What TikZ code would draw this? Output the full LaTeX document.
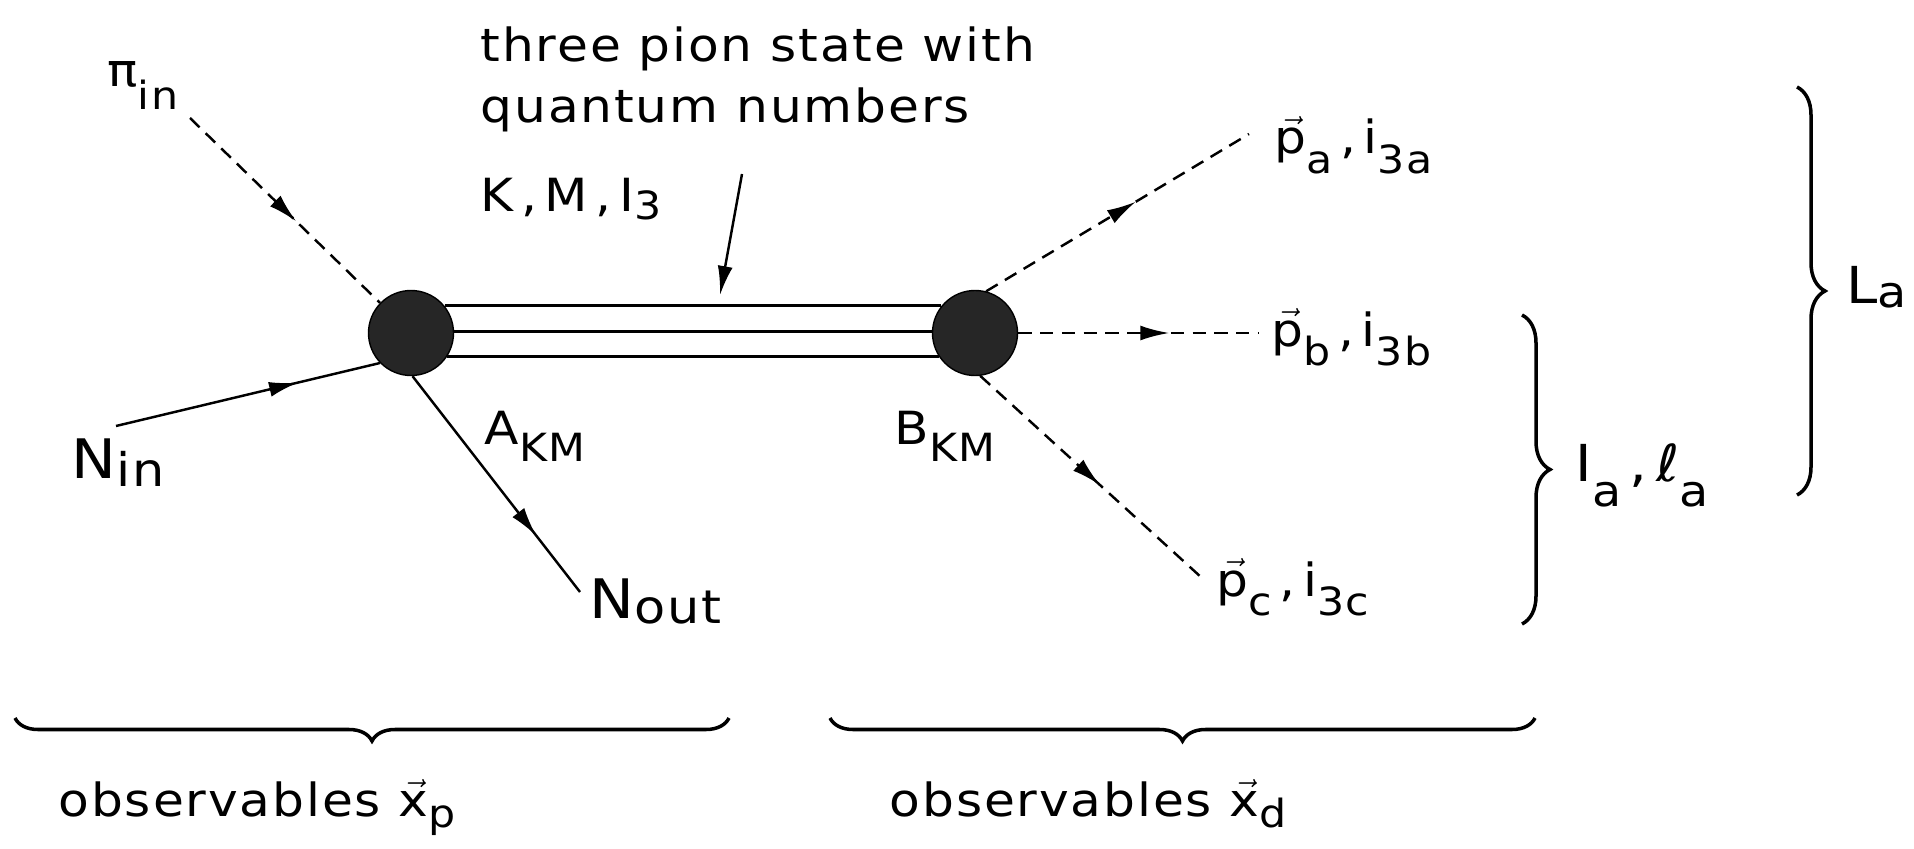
\documentclass[tikz,border=0pt]{standalone}
\usepackage{amsmath}
\usepackage{fontspec}
\setmainfont{DejaVu Sans}[FakeStretch=1.1,LetterSpace=4]
\usepackage{tikz}
\usetikzlibrary{arrows.meta, decorations.markings, decorations.pathreplacing, positioning}

% pedice abbassato, quasi a grandezza piena
\newcommand{\lowsub}[2][0.6ex]{\raisebox{-#1}{\scalebox{0.85}{#2}}}

\tikzset{
  vertex/.style={circle, draw, fill=black!85, minimum size=0.85cm, inner sep=0pt},
  pion/.style={line width=0.7pt, dash pattern=on 3.8pt off 2.4pt},
  nucleon/.style={line width=0.7pt},
  tube/.style={line width=0.8pt},
  midarrow/.style={postaction={decorate}, decoration={markings,
      mark=at position #1 with {\arrow{Latex[length=2.9mm, width=1.5mm]}}}},
  curly/.style={decorate, line width=1pt, decoration={brace, amplitude=#1}},
  lbl/.style={inner sep=0pt, font=\fontsize{13}{15}\selectfont},
  midlbl/.style={inner sep=0pt, font=\fontsize{14.5}{17}\selectfont},
  biglbl/.style={inner sep=0pt, font=\fontsize{15.5}{18}\selectfont},
}

\begin{document}
\begin{tikzpicture}
    \useasboundingbox (0,0) rectangle (19.14,8.48);

    % Vertici
    \node[vertex] (A) at (4.11,5.15) {};
    \node[vertex] (B) at (9.75,5.15) {};

    % Stato a tre pioni
    \draw[tube] (A.39) -- (B.141);
    \draw[tube] (A.2) -- (B.178);
    \draw[tube] (A.-33) -- (B.-147);

    % Estremi liberi delle linee
    \coordinate (pi-end) at (1.90,7.30);
    \coordinate (nin-end) at (1.16,4.22);
    \coordinate (nout-end) at (5.80,2.56);
    \coordinate (pa-end) at (12.49,7.14);
    \coordinate (pb-end) at (12.58,5.15);
    \coordinate (pc-end) at (12.02,2.70);

    % Particelle entranti e uscenti
    \draw[pion, midarrow=0.56] (pi-end) -- (A);
    \draw[nucleon, midarrow=0.69] (nin-end) -- (A.224);
    \draw[nucleon, midarrow=0.74] (A.272) -- (nout-end);
    \draw[pion, midarrow=0.57] (B.75) -- (pa-end);
    \draw[pion, midarrow=0.63] (B.east) -- (pb-end);
    \draw[pion, midarrow=0.54] (B.277) -- (pc-end);

    % Freccia verso lo stato intermedio
    \coordinate (km-tail) at (7.42,6.74);
    \coordinate (km-head) at (7.20,5.53);
    \draw[nucleon, -{Latex[length=2.9mm, width=1.5mm]}] (km-tail) -- (km-head);

    % Etichette
    \node[lbl, anchor=base west] (pin) at (1.07,7.61) {π\lowsub[0.9ex]{in}};
    \node[biglbl, anchor=base west] (nin) at (0.71,3.70) {N\lowsub[0.3ex]{in}};
    \node[biglbl, anchor=base west] (nout) at (5.89,2.30) {N\lowsub[0.2ex]{out}};
    \node[lbl, anchor=base west] (akm) at (4.84,4.04) {A\lowsub[0.7ex]{KM}};
    \node[lbl, anchor=base west] (bkm) at (8.94,4.04) {B\lowsub[0.7ex]{KM}};
    \node[lbl, anchor=base west] (state1) at (4.80,7.86) {three pion state with};
    \node[lbl, anchor=base west] (state2) at (4.80,7.25) {quantum numbers};
    \node[lbl, anchor=base west] (qnum) at (4.80,6.36) {K\,,\,M\,,\,I\lowsub[0.3ex]{3}};
    \node[lbl, anchor=base west] (pa) at (12.74,6.94) {$\vec{\text{p}}$\lowsub[0.8ex]{a}\,,\,i\lowsub[0.8ex]{3a}};
    \node[lbl, anchor=base west] (pb) at (12.71,5.02) {$\vec{\text{p}}$\lowsub[0.8ex]{b}\,,\,i\lowsub[0.8ex]{3b}};
    \node[lbl, anchor=base west] (pc) at (12.16,2.52) {$\vec{\text{p}}$\lowsub[0.8ex]{c}\,,\,i\lowsub[0.8ex]{3c}};
    \node[midlbl, anchor=base west] (ila) at (15.75,3.67) {I\lowsub[0.9ex]{a}\,,\,ℓ\lowsub[0.9ex]{a}};
    \node[midlbl, anchor=base west] (la) at (18.46,5.45) {L\lowsub[0.15ex]{a}};
    \node[lbl, anchor=base west] (obsp) at (0.58,0.32) {observables $\vec{\text{x}}$\lowsub[0.45ex]{p}};
    \node[lbl, anchor=base west] (obsd) at (8.89,0.32) {observables $\vec{\text{x}}$\lowsub[0.45ex]{d}};

    % Parentesi graffe
    \draw[curly=0.28cm] (15.22,5.33) -- (15.22,2.24);
    \draw[curly=0.28cm] (17.97,7.61) -- (17.97,3.53);
    \draw[curly=0.23cm] (7.29,1.30) -- (0.15,1.30);
    \draw[curly=0.23cm] (15.35,1.30) -- (8.30,1.30);
\end{tikzpicture}
\end{document}
